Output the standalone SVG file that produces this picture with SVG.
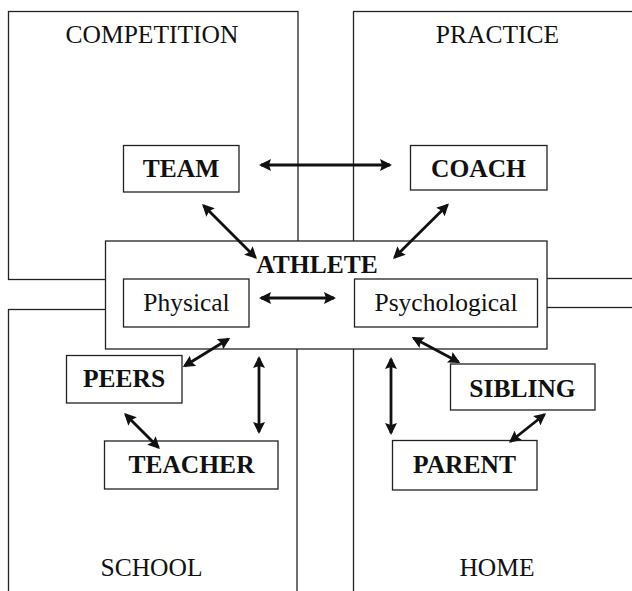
<svg xmlns="http://www.w3.org/2000/svg" width="632" height="591" viewBox="0 0 632 591">
  <style>
    .zone { fill: none; stroke: #222; stroke-width: 1.3; }
    .box { fill: #fff; stroke: #222; stroke-width: 1.3; }
    .lbl { font-family: "Liberation Serif", "Times New Roman", serif; font-size: 25.5px; fill: #111; text-anchor: middle; }
    .bold { font-weight: bold; font-size: 25.5px; }
    .link { stroke: #111; stroke-width: 2.8; fill: none; marker-start: url(#head); marker-end: url(#head); }
  </style>
  <defs>
    <marker id="head" viewBox="0 0 12 12" refX="10" refY="6" markerWidth="12" markerHeight="12" markerUnits="userSpaceOnUse" orient="auto-start-reverse">
      <path d="M0,0 L12,6 L0,12 L2,6 Z" fill="#111"/>
    </marker>
  </defs>

  <!-- setting zones -->
  <g id="competition">
    <rect class="zone" x="8.5" y="11.5" width="289.5" height="268"/>
    <text class="lbl" x="152" y="43">COMPETITION</text>
  </g>
  <g id="practice">
    <rect class="zone" x="353.5" y="11.5" width="290" height="267"/>
    <text class="lbl" x="497.5" y="43">PRACTICE</text>
  </g>
  <g id="school">
    <rect class="zone" x="8.5" y="309.5" width="288.5" height="300"/>
    <text class="lbl" x="151.5" y="576">SCHOOL</text>
  </g>
  <g id="home">
    <rect class="zone" x="353.5" y="307.5" width="290" height="300"/>
    <text class="lbl" x="497" y="576">HOME</text>
  </g>

  <!-- central athlete -->
  <g id="athlete">
    <rect class="box" x="105.5" y="241" width="441.5" height="108"/>
    <text class="lbl bold" x="317" y="273">ATHLETE</text>
  </g>
  <g id="physical">
    <rect class="box" x="123.5" y="279" width="125.5" height="48"/>
    <text class="lbl" x="186.5" y="311">Physical</text>
  </g>
  <g id="psychological">
    <rect class="box" x="354.5" y="279" width="183" height="48"/>
    <text class="lbl" x="446" y="311">Psychological</text>
  </g>

  <!-- people -->
  <g id="team">
    <rect class="box" x="123.5" y="145.5" width="115.5" height="46.5"/>
    <text class="lbl bold" x="181" y="177">TEAM</text>
  </g>
  <g id="coach">
    <rect class="box" x="410.5" y="145.5" width="136.5" height="44.5"/>
    <text class="lbl bold" x="478.5" y="177">COACH</text>
  </g>
  <g id="peers">
    <rect class="box" x="66.5" y="355.5" width="115.5" height="47.5"/>
    <text class="lbl bold" x="124" y="387">PEERS</text>
  </g>
  <g id="teacher">
    <rect class="box" x="104.5" y="441" width="173.5" height="48"/>
    <text class="lbl bold" x="191.5" y="473">TEACHER</text>
  </g>
  <g id="sibling">
    <rect class="box" x="450.5" y="364" width="144.5" height="46"/>
    <text class="lbl bold" x="522.5" y="397">SIBLING</text>
  </g>
  <g id="parent">
    <rect class="box" x="392.5" y="440.5" width="144.5" height="49.5"/>
    <text class="lbl bold" x="464.5" y="473">PARENT</text>
  </g>

  <!-- two-way relationships -->
  <g id="connectors">
    <line class="link" x1="261" y1="165" x2="390" y2="165"/>
    <line class="link" x1="203.5" y1="205.5" x2="255.5" y2="257.5"/>
    <line class="link" x1="447.5" y1="205" x2="394.5" y2="257.5"/>
    <line class="link" x1="261" y1="298" x2="334" y2="298"/>
    <line class="link" x1="228.5" y1="339" x2="184.5" y2="366"/>
    <line class="link" x1="259" y1="358" x2="259" y2="432"/>
    <line class="link" x1="125.5" y1="414.5" x2="158.5" y2="447.5"/>
    <line class="link" x1="391" y1="359" x2="391" y2="433"/>
    <line class="link" x1="413.5" y1="338" x2="458.5" y2="362"/>
    <line class="link" x1="544.5" y1="414.5" x2="510.5" y2="441.5"/>
  </g>
</svg>
